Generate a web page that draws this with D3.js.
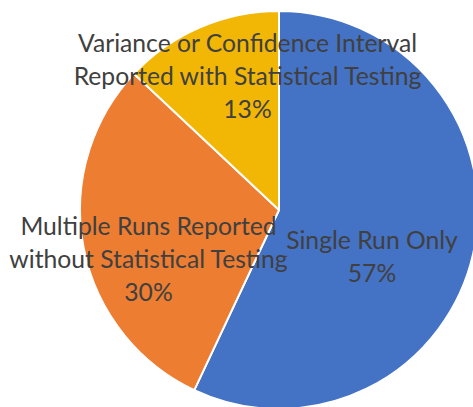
<!DOCTYPE html>
<html><head><meta charset="utf-8">
<script src="https://cdn.jsdelivr.net/npm/d3@7/dist/d3.min.js"></script>
<style>html,body{margin:0;padding:0;background:#fff;overflow:hidden}</style>
</head><body>
<svg id="c" width="473" height="407"></svg>
<script>
const categories = ["Single Run Only", "Multiple Runs Reported without Statistical Testing", "Variance or Confidence Interval Reported with Statistical Testing"];
const values = [57, 30, 13];
const labelLines = [["Single Run Only"], ["Multiple Runs Reported", "without Statistical Testing"], ["Variance or Confidence Interval", "Reported with Statistical Testing"]];
const colors = ["#4472C4", "#ED7D31", "#F2B705"];
// label first-baseline offsets relative to pie centre (layout)
const labelOffsets = [[93, 39], [-130.5, 25], [-31.5, -158]];

const svg = d3.select("#c");
const cx = 279, cy = 210, R = 199;
const g = svg.append("g").attr("transform", `translate(${cx},${cy})`);
const pie = d3.pie().sort(null).value(d => d)(values);
const arc = d3.arc().innerRadius(0).outerRadius(R);
g.selectAll("path").data(pie).join("path")
  .attr("d", arc).attr("fill", (d,i) => colors[i])
  .attr("stroke", "#fff").attr("stroke-width", 2).attr("stroke-linejoin","round");

const fs = 24.7, lh = 33;
pie.forEach((d, i) => {
  const lines = labelLines[i].concat([Math.round(values[i]) + "%"]);
  const t = g.append("text")
    .attr("font-family", "Lato, 'Open Sans', sans-serif")
    .attr("font-size", fs).attr("fill", "#404040").attr("text-anchor", "middle");
  lines.forEach((l, k) => {
    t.append("tspan").attr("x", labelOffsets[i][0]).attr("y", labelOffsets[i][1] + k * lh).text(l);
  });
});
</script>
</body></html>
